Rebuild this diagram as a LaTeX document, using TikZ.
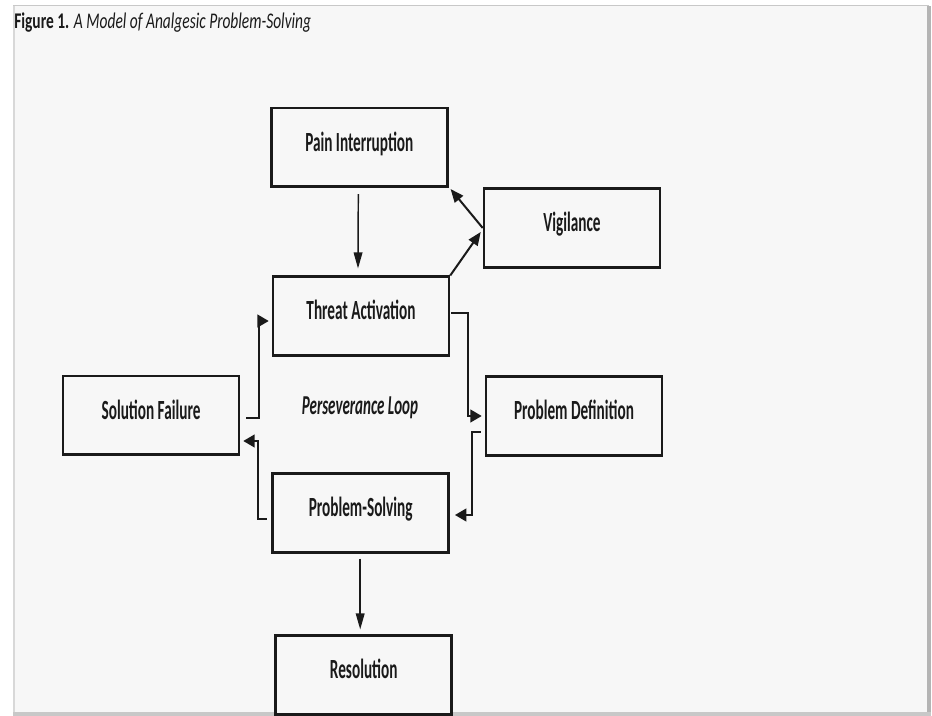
\documentclass[tikz,border=0pt]{standalone}
\usepackage{fontspec}
\setmainfont{Carlito}
\newfontfamily\cond{Carlito}[FakeStretch=0.55]
\newfontfamily\titlefont{Carlito}[FakeStretch=0.69]
\usetikzlibrary{arrows.meta,calc}
\definecolor{panel}{HTML}{F7F7F7}
\definecolor{ink}{HTML}{1A1A1A}
\definecolor{edgeA}{HTML}{C8C8C8}
\definecolor{edgeB}{HTML}{B4B4B4}
\begin{document}
\begin{tikzpicture}[x=0.75pt,y=-0.75pt,
  box/.style={draw=ink, line width=1.9pt, fill=panel, minimum width=132pt,
    minimum height=58.9pt, inner sep=0pt, text height=10.5pt, text depth=4.8pt,
    font=\cond\bfseries\fontsize{20.8}{24}\selectfont, text=ink},
  arrv/.style={draw=ink, line width=1.1pt, -{Triangle[length=12pt,width=6.5pt]}},
  arrd/.style={draw=ink, line width=1.5pt, -{Triangle[length=10pt,width=8pt]}},
  arrl/.style={draw=ink, line width=1.5pt, -{Triangle[length=8.5pt,width=9.5pt]}},
  lab/.style={font=\cond\bfseries\itshape\fontsize{20.5}{24}\selectfont, text=ink, inner sep=0pt}
]
% background and panel
\useasboundingbox (0,0) rectangle (932,716);
\fill[white] (0,0) rectangle (932,716);
\fill[panel] (14,6) rectangle (929,714);
\fill[edgeA] (13,5) rectangle (929,6.5);
\fill[edgeA!70] (13,6) rectangle (15,714);
\fill[edgeB] (927,6) rectangle (931,716);
\fill[edgeA] (13,712) rectangle (931,716);

% title
\node[anchor=base west, inner sep=0pt, text=ink, font=\titlefont\fontsize{16.8}{19}\selectfont] (title) at (14,29)
  {\textbf{Figure 1.} \textit{A Model of Analgesic Problem-Solving}};

% boxes
\node[box] (pain)   at (359.3,147.5) {Pain Interruption};
\node[box] (vig)    at (572,228)     {Vigilance};
\node[box] (threat) at (361,316)     {Threat Activation};
\node[box] (fail)   at (151,415.5)   {Solution Failure};
\node[box] (def)    at (574,416)     {Problem Definition};
\node[box] (solve)  at (360.7,513)   {Problem-Solving};
\node[box] (res)    at (363.7,675)   {Resolution};

\node[lab] (loop) at (360,408) {Perseverance Loop};

% connectors
\draw[arrv] ($(pain.south)+(-1,6)$) -- ($(threat.north)+(-3,-7)$);
\draw[arrd] (threat.north east) -- ($(vig.west)+(-2,4)$);
\draw[arrd] (vig.west) -- ($(pain.south east)+(2,1)$);
\draw[arrl] ($(threat.east)+(1,-3)$) -- ++(17,0) |- ($(def.west)+(-3,0)$);
\draw[arrl] ($(def.west)+(-4,16)$) -- ++(-9,0) |- ($(solve.east)+(5,2)$);
\draw[arrl] ($(solve.west)+(-4.5,6)$) -- ++(-9,0) |- ($(fail.east)+(3,25.5)$);
\draw[arrl] ($(fail.east)+(6,2.5)$) -- ++(13,0) |- ($(threat.west)+(-3,5)$);
\draw[arrv] ($(solve.south)+(-0.5,5)$) -- ($(res.north)+(-3.5,-5)$);
\end{tikzpicture}
\end{document}
